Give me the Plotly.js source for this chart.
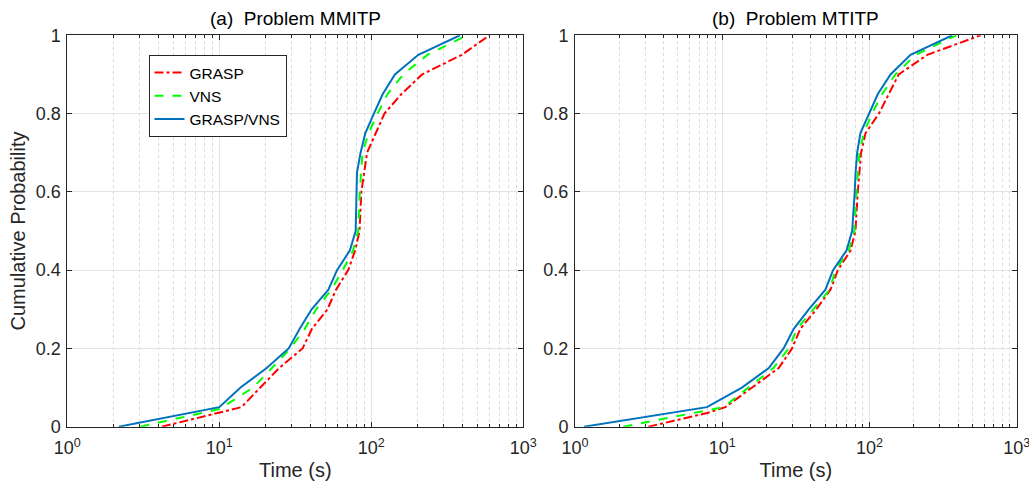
<!DOCTYPE html>
<html>
<head>
<meta charset="utf-8">
<script src="https://cdn.plot.ly/plotly-3.0.1.min.js"></script>
<style>html,body{margin:0;padding:0;background:#fff;}#chart{width:1029px;height:490px;}</style>
</head>
<body>
<div id="chart"></div>
<script>
// ---- data: (a) Problem MMITP ----
const yA_grasp = [0,0.035,0.05,0.1,0.15,0.2,0.25,0.3,0.35,0.4,0.45,0.5,0.6,0.7,0.75,0.8,0.85,0.9,0.95,1];
const xA_grasp = [4.19,10,14,18.6,24.8,35.3,40.7,51.5,58.6,70.5,78.2,83.7,86,93.8,107,122,158,216,394,599];
const yA_vns = [0,0.045,0.05,0.1,0.15,0.2,0.25,0.3,0.35,0.4,0.45,0.5,0.6,0.7,0.75,0.8,0.85,0.9,0.95,1];
const xA_vns = [3.03,10,10.5,16.7,22.2,29.3,36.5,43.4,54.6,64.9,75.9,82,84,87.5,96,110,128,162,234,425];
const yA_gv = [0,0.05,0.1,0.15,0.2,0.25,0.3,0.35,0.4,0.45,0.5,0.55,0.6,0.65,0.7,0.75,0.8,0.85,0.9,0.95,1];
const xA_gv = [2.18,10,13.8,20.5,28.6,33.8,40.5,52.2,59.5,72.2,78.9,79.5,80,80.5,85,91.4,104,119,143,204,383];

// ---- data: (b) Problem MTITP ----
const yB_grasp = [0,0.035,0.05,0.15,0.2,0.25,0.3,0.35,0.4,0.45,0.5,0.6,0.7,0.75,0.8,0.85,0.9,0.95,1];
const xB_grasp = [3.15,7.9,10.5,24.2,29.8,33.9,43.6,54.3,61,74.3,80.3,83.3,87.7,94,116,135,158,247,569];
const yB_vns = [0,0.045,0.05,0.15,0.2,0.25,0.3,0.35,0.4,0.45,0.5,0.6,0.7,0.75,0.8,0.85,0.9,0.95,1];
const xB_vns = [2.13,8.96,10.2,22.3,28.3,32.2,41.4,53.7,58.7,72.3,79,81.6,85.5,91.5,104,122,150,206,389];
const yB_gv = [0,0.05,0.1,0.15,0.2,0.25,0.3,0.35,0.4,0.45,0.5,0.55,0.6,0.65,0.7,0.75,0.8,0.85,0.9,0.95,1];
const xB_gv = [1.15,7.87,13.6,20.7,26.1,30.6,38.7,50.2,56.6,69.8,76.3,78.2,79.4,80.5,82.5,86.8,99,114,139,190,365];

const seriesNames = ['GRASP','VNS','GRASP/VNS'];
const xTickVals = [1,10,100,1000];
const xTickText = ['10<sup>0</sup>','10<sup>1</sup>','10<sup>2</sup>','10<sup>3</sup>'];
const yTickVals = [0,0.2,0.4,0.6,0.8,1];
const yTickText = ['0','0.2','0.4','0.6','0.8','1'];
const panelTitles = ['(a)\u00a0\u00a0Problem MMITP','(b)\u00a0\u00a0Problem MTITP'];
const xTitle = 'Time (s)';
const yTitle = 'Cumulative Probability';

const styles = [
  {color:'#FF0000', dash:'dashdot', width:2},
  {color:'#00FF00', dash:'dash', width:2},
  {color:'#0072BD', dash:'solid', width:2}
];

const panels = [
  [[xA_grasp,yA_grasp],[xA_vns,yA_vns],[xA_gv,yA_gv]],
  [[xB_grasp,yB_grasp],[xB_vns,yB_vns],[xB_gv,yB_gv]]
];

const traces = [];
panels.forEach((p,pi)=>{
  p.forEach((s,si)=>{
    traces.push({
      x:s[0], y:s[1], type:'scatter', mode:'lines', name:seriesNames[si],
      line:styles[si], showlegend: pi===0,
      xaxis: pi===0?'x':'x2', yaxis: pi===0?'y':'y2'
    });
  });
});

const fam = '"Liberation Sans", Arial, sans-serif';
const txt = '#262626';
const axBase = {
  showline:true, linecolor:'#262626', linewidth:1, mirror:'ticks',
  ticks:'inside', ticklen:5, tickcolor:'#262626', tickwidth:1,
  showgrid:true, gridcolor:'#E3E3E3', gridwidth:1, zeroline:false,
  tickfont:{size:18, family:fam, color:txt}, fixedrange:true, ticklabeloverflow:'allow'
};
function xAxis(dom){
  return Object.assign({}, axBase, {
    type:'log', range:[0,3], domain:dom, tickmode:'array', tickvals:xTickVals, ticktext:xTickText,
    ticklabelstandoff:5,
    minor:{dtick:'D1', showgrid:true, gridcolor:'#DADADA', griddash:'dot', gridwidth:1, ticks:'inside', ticklen:3, tickcolor:'#262626'},
    title:{text:xTitle, font:{size:20, family:fam, color:txt}, standoff:5}
  });
}
function yAxis(anchor, withTitle){
  const a = Object.assign({}, axBase, {
    range:[0,1], domain:[0.1292,0.928], anchor:anchor, tickmode:'array', tickvals:yTickVals, ticktext:yTickText,
    ticklabelstandoff:2
  });
  if(withTitle) a.title = {text:yTitle, font:{size:20, family:fam, color:txt}, standoff:4};
  return a;
}

const dA = [67.3/1029, 523.3/1029];
const dB = [575/1029, 1016.7/1029];

const layout = {
  width:1029, height:490, margin:{l:0,r:0,t:0,b:0},
  paper_bgcolor:'#fff', plot_bgcolor:'#fff', font:{family:fam, color:txt},
  xaxis: Object.assign(xAxis(dA), {anchor:'y'}),
  yaxis: yAxis('x', true),
  xaxis2: Object.assign(xAxis(dB), {anchor:'y2'}),
  yaxis2: yAxis('x2', false),
  showlegend:true,
  legend:{x:148.5/1029, y:(490-55)/490, xanchor:'left', yanchor:'top', bgcolor:'#fff',
          bordercolor:'#262626', borderwidth:1, font:{size:15.5, family:fam, color:'#000'},
          tracegroupgap:0, itemwidth:30},
  annotations:[
    {text:panelTitles[0], xref:'paper', yref:'paper', x:(dA[0]+dA[1])/2, y:(490-18)/490, xanchor:'center', yanchor:'middle', showarrow:false, font:{size:19, family:fam, color:'#000'}},
    {text:panelTitles[1], xref:'paper', yref:'paper', x:(dB[0]+dB[1])/2, y:(490-18)/490, xanchor:'center', yanchor:'middle', showarrow:false, font:{size:19, family:fam, color:'#000'}}
  ]
};

Plotly.newPlot('chart', traces, layout, {displayModeBar:false, staticPlot:true});
</script>
</body>
</html>
